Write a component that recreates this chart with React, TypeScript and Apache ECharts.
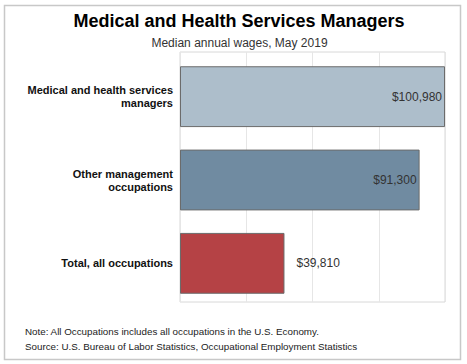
import React, { useEffect, useRef } from "react";
import * as echarts from "echarts";

const categories = [
  "Medical and health services\nmanagers",
  "Other management\noccupations",
  "Total, all occupations",
];
const wages = [100980, 91300, 39810];
const valueLabels = ["$100,980", "$91,300", "$39,810"];
const barColors = ["#adbecb", "#708ba1", "#b54245"];
const titleText = "Medical and Health Services Managers";
const subtitleText = "Median annual wages, May 2019";
const noteText = "Note: All Occupations includes all occupations in the U.S. Economy.";
const sourceText = "Source: U.S. Bureau of Labor Statistics, Occupational Employment Statistics";

export default function App() {
  const ref = useRef<HTMLDivElement>(null);
  useEffect(() => {
    document.body.style.margin = "0";
    const chart = echarts.init(ref.current!, undefined, { renderer: "svg" });
    chart.setOption({
      animation: false,
      backgroundColor: "#ffffff",
      grid: [
        {
          left: 180,
          right: 22,
          top: 52,
          bottom: 62,
          show: true,
          borderColor: "#d8d8d8",
          borderWidth: 1,
        },
        {
          left: 180,
          right: 22,
          top: 55,
          bottom: 59,
        },
      ],
      xAxis: [
        {
          type: "value",
          gridIndex: 0,
          min: 0,
          max: 100980,
          interval: 25245,
          axisLabel: { show: false },
          axisLine: { show: false },
          axisTick: { show: false },
          splitLine: { lineStyle: { color: "#e6e6e6", width: 1 } },
        },
        {
          type: "value",
          gridIndex: 1,
          min: 0,
          max: 100980,
          interval: 25245,
          axisLabel: { show: false },
          axisLine: { show: false },
          axisTick: { show: false },
          splitLine: { show: false },
        },
      ],
      yAxis: [
        {
          type: "category",
          gridIndex: 0,
          data: categories,
          show: false,
        },
        {
          type: "category",
          gridIndex: 1,
          inverse: true,
          data: categories,
          axisLine: { show: false },
          axisTick: { show: false },
          axisLabel: {
            margin: 7,
            fontFamily: "Liberation Sans",
            fontWeight: "bold",
            fontSize: 11,
            lineHeight: 13,
            color: "#111",
            align: "right",
          },
        },
      ],
      series: [
        {
          type: "bar",
          xAxisIndex: 1,
          yAxisIndex: 1,
          barCategoryGap: "27%",
          data: wages.map((v, i) => ({
            value: v,
            itemStyle: { color: barColors[i] },
            label: { position: i < 2 ? "insideRight" : "right", distance: i < 2 ? 3 : 12 },
          })),
          itemStyle: { borderColor: "#6b6b6b", borderWidth: 1 },
          label: {
            show: true,
            formatter: (p: any) => valueLabels[p.dataIndex],
            fontFamily: "Liberation Sans",
            fontSize: 12,
            color: "#333",
          },
        },
      ],
      graphic: [
        {
          type: "rect",
          shape: { x: 4.5, y: 5.5, width: 456, height: 354 },
          style: { fill: "none", stroke: "#c8c8c8", lineWidth: 1.5 },
          silent: true,
        },
        {
          type: "text",
          x: 239,
          y: 21,
          style: {
            text: titleText,
            fontFamily: "Liberation Sans",
            fontWeight: "bold",
            fontSize: 18,
            fill: "#000",
            textAlign: "center",
            textVerticalAlign: "middle",
          },
        },
        {
          type: "text",
          x: 239.5,
          y: 43,
          style: {
            text: subtitleText,
            fontFamily: "Liberation Sans",
            fontSize: 12,
            fill: "#333",
            textAlign: "center",
            textVerticalAlign: "middle",
          },
        },
        {
          type: "text",
          x: 25,
          y: 331,
          style: { text: noteText, fontFamily: "Liberation Sans", fontSize: 9.8, fill: "#222", textVerticalAlign: "middle" },
        },
        {
          type: "text",
          x: 25,
          y: 346,
          style: { text: sourceText, fontFamily: "Liberation Sans", fontSize: 9.8, fill: "#222", textVerticalAlign: "middle" },
        },
      ],
    });
    return () => chart.dispose();
  }, []);
  return <div ref={ref} style={{ width: 467, height: 364 }} />;
}
